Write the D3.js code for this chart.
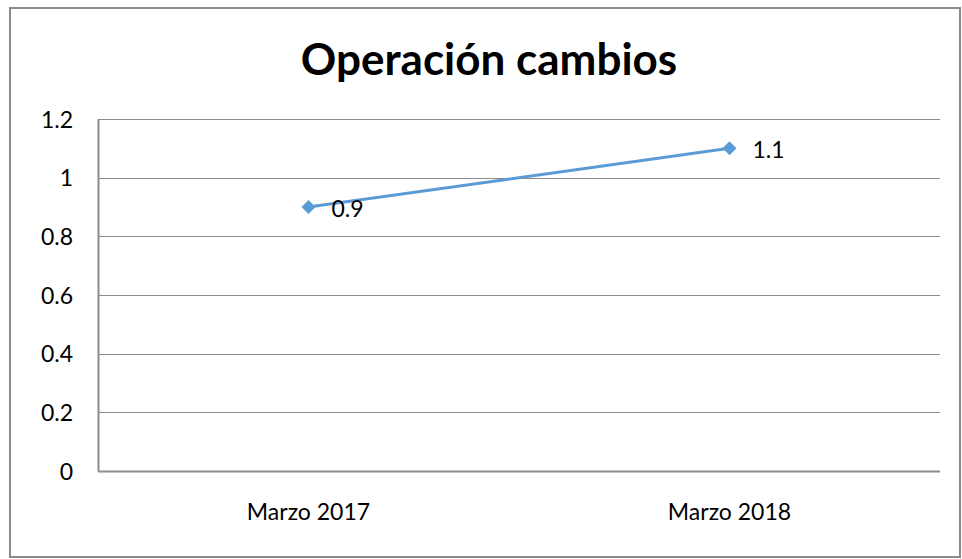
<!DOCTYPE html>
<html>
<head>
<meta charset="utf-8">
<script src="https://cdn.jsdelivr.net/npm/d3@7"></script>
<style>
	body { margin: 0; background: #fff; }
	svg text { font-family: Lato, "Open Sans", sans-serif; fill: #000; }
</style>
</head>
<body>
<script>
	// Data
	let categories = ['Marzo 2017', 'Marzo 2018'];
	let values = [0.9, 1.1];
	let yTicks = [0, 0.2, 0.4, 0.6, 0.8, 1, 1.2];

	let width = 962, height = 559,
		margin = {top: 119, right: 22, bottom: 88, left: 98};

	let svg = d3.select('body').append('svg')
		.attr('width', width)
		.attr('height', height);

	// Outer border
	svg.append('rect')
		.attr('x', 10).attr('y', 8)
		.attr('width', 950).attr('height', 549)
		.attr('fill', 'none')
		.attr('stroke', '#8a8a8a')
		.attr('stroke-width', 2);

	// Title
	svg.append('text')
		.attr('x', 489).attr('y', 75)
		.attr('text-anchor', 'middle')
		.style('font-size', '44px')
		.style('font-weight', 'bold')
		.text('Operación cambios');

	let x = d3.scaleBand()
		.domain(categories)
		.range([margin.left, width - margin.right]);
	let y = d3.scaleLinear()
		.domain([0, 1.2])
		.range([height - margin.bottom, margin.top]);

	// Gridlines
	svg.append('g')
		.selectAll('line')
		.data(yTicks).enter()
		.append('line')
			.attr('x1', margin.left)
			.attr('x2', width - margin.right)
			.attr('y1', d => Math.round(y(d)) + 0.5)
			.attr('y2', d => Math.round(y(d)) + 0.5)
			.attr('stroke', '#8c8c8c')
			.attr('stroke-width', d => d === 0 ? 2 : 1);

	// Y axis
	let yAxis = svg.append('g')
		.attr('transform', 'translate(' + margin.left + ',0)')
		.call(d3.axisLeft(y).tickValues(yTicks).tickSize(0).tickPadding(25)
			.tickFormat(d => String(d)));
	yAxis.select('.domain')
		.attr('stroke', '#8c8c8c')
		.attr('stroke-width', 2);
	yAxis.selectAll('text')
		.style('font-size', '23px')
		.attr('dy', '0.35em');

	// X axis labels
	let xAxis = svg.append('g')
		.attr('transform', 'translate(0,' + (height - margin.bottom) + ')')
		.call(d3.axisBottom(x).tickSize(0).tickPadding(33));
	xAxis.select('.domain').remove();
	xAxis.selectAll('text')
		.style('font-size', '23px');

	// Line
	let pts = categories.map((c, i) => ({c: c, v: values[i]}));
	let line = d3.line()
		.x(d => x(d.c) + x.bandwidth() / 2)
		.y(d => y(d.v));
	svg.append('path')
		.datum(pts)
		.attr('d', line)
		.attr('fill', 'none')
		.attr('stroke', '#5b9bd5')
		.attr('stroke-width', 3);

	// Diamond markers
	svg.append('g')
		.selectAll('path')
		.data(pts).enter()
		.append('path')
			.attr('transform', d => 'translate(' + (x(d.c) + x.bandwidth() / 2) + ',' + y(d.v) + ')')
			.attr('d', d3.symbol(d3.symbolDiamond2, 125))
			.attr('fill', '#5b9bd5');

	// Data labels
	svg.append('g')
		.selectAll('text')
		.data(pts).enter()
		.append('text')
			.attr('x', d => x(d.c) + x.bandwidth() / 2 + 23)
			.attr('y', d => y(d.v) + 9.5)
			.style('font-size', '23px')
			.text(d => String(d.v));
</script>
</body>
</html>
